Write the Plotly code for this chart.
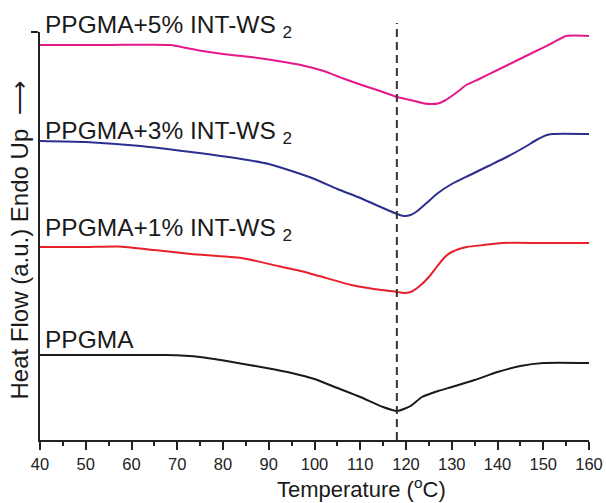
import plotly.graph_objects as go

# Temperature (°C) and heat flow (a.u.) for each sample
t_5 = [40, 55, 68.5, 72, 75.5, 80, 86, 92, 97, 102, 106, 110, 114, 118, 121, 124, 125.5, 127, 128.5, 130, 131.5, 133, 136, 140, 144, 148, 152, 155, 160]
hf_5 = [3.95, 3.95, 3.95, 3.92, 3.89, 3.86, 3.83, 3.79, 3.75, 3.69, 3.62, 3.555, 3.495, 3.43, 3.40, 3.365, 3.36, 3.365, 3.395, 3.44, 3.49, 3.545, 3.61, 3.70, 3.79, 3.88, 3.97, 4.04, 4.04]

t_3 = [40, 50, 62, 73, 84, 90, 95, 100, 105, 110, 114, 117.5, 119.5, 121, 122.5, 124.5, 127, 130, 134, 138, 142, 146, 148.5, 150.5, 152, 160]
hf_3 = [2.99, 2.98, 2.94, 2.88, 2.81, 2.76, 2.69, 2.61, 2.51, 2.42, 2.34, 2.27, 2.24, 2.25, 2.29, 2.37, 2.47, 2.56, 2.65, 2.74, 2.83, 2.93, 3.00, 3.045, 3.06, 3.06]

t_1 = [40, 50, 57, 65, 73, 84, 92, 97, 101, 108, 113, 118, 119.5, 121, 123, 125, 126.7, 128.5, 130, 133.3, 137, 141, 150, 160]
hf_1 = [1.93, 1.93, 1.935, 1.90, 1.86, 1.82, 1.74, 1.69, 1.64, 1.55, 1.51, 1.48, 1.47, 1.48, 1.54, 1.63, 1.73, 1.83, 1.88, 1.93, 1.95, 1.97, 1.97, 1.97]

t_0 = [40, 55, 67.5, 75, 82, 89.5, 95, 100, 105, 110, 115, 118, 121, 123.5, 127, 130, 135, 140, 145, 150, 160]
hf_0 = [0.85, 0.85, 0.85, 0.83, 0.78, 0.72, 0.67, 0.61, 0.52, 0.43, 0.33, 0.29, 0.34, 0.43, 0.49, 0.53, 0.60, 0.68, 0.74, 0.77, 0.77]

labels = ["PPGMA+5% INT-WS <sub>2</sub>", "PPGMA+3% INT-WS <sub>2</sub>", "PPGMA+1% INT-WS <sub>2</sub>", "PPGMA"]
label_y = [4.135, 3.075, 2.105, 1.01]
colors = ["#e6198a", "#2b2f8e", "#e8202a", "#1a1a1a"]
x_ticks = [40, 50, 60, 70, 80, 90, 100, 110, 120, 130, 140, 150, 160]
tm_line = 118
Y_MAX = 4.08

FONT = "Liberation Sans, Arial, sans-serif"

fig = go.Figure()
for t, hf, c, name in zip([t_5, t_3, t_1, t_0], [hf_5, hf_3, hf_1, hf_0], colors, labels):
    fig.add_trace(go.Scatter(x=t, y=hf, mode="lines", name=name,
                             line=dict(color=c, width=2, shape="spline", smoothing=0.6),
                             showlegend=False))

for txt, y in zip(labels, label_y):
    fig.add_annotation(x=40.6, y=y / Y_MAX, xref="x", yref="paper", text=txt, showarrow=False,
                       xanchor="left", yanchor="middle",
                       font=dict(family=FONT, size=24.5, color="#1a1a1a"))

fig.add_shape(type="line", xref="x", yref="paper", x0=tm_line, x1=tm_line, y0=0, y1=1.022,
              line=dict(color="#333333", width=2, dash="8px,5px"))

fig.add_annotation(xref="paper", yref="paper", x=0.586, y=-0.118, text="Temperature (<sup>o</sup>C)",
                   showarrow=False, xanchor="center", yanchor="middle", borderpad=0,
                   font=dict(family=FONT, size=22, color="#1a1a1a"))
fig.add_annotation(xref="paper", yref="paper", x=-0.0374, y=0.49, text="Heat Flow (a.u.) Endo Up  ⟶",
                   showarrow=False, textangle=-90, xanchor="center", yanchor="middle",
                   font=dict(family=FONT, size=24, color="#1a1a1a"))

fig.update_xaxes(range=[40, 160], tickvals=x_ticks, ticktext=[str(v) for v in x_ticks],
                 showline=True, linecolor="#222222", linewidth=2, mirror=False,
                 ticks="outside", ticklen=8, tickwidth=1.5, tickcolor="#222222",
                 minor=dict(dtick=5, tick0=40, ticks="outside", ticklen=4, tickwidth=1.5, tickcolor="#222222"),
                 showgrid=False, zeroline=False, automargin=False,
                 tickfont=dict(family=FONT, size=16.5, color="#222222"))
fig.update_yaxes(range=[0, Y_MAX], tickvals=[Y_MAX], showticklabels=False,
                 showline=True, linecolor="#222222", linewidth=2,
                 ticks="outside", ticklen=7, tickwidth=1.5, tickcolor="#222222",
                 showgrid=False, zeroline=False, automargin=False)

fig.update_layout(width=606, height=503, margin=dict(l=40, r=17, t=32, b=63, autoexpand=False),
                  paper_bgcolor="white", plot_bgcolor="white")

fig.write_html("out.html")
